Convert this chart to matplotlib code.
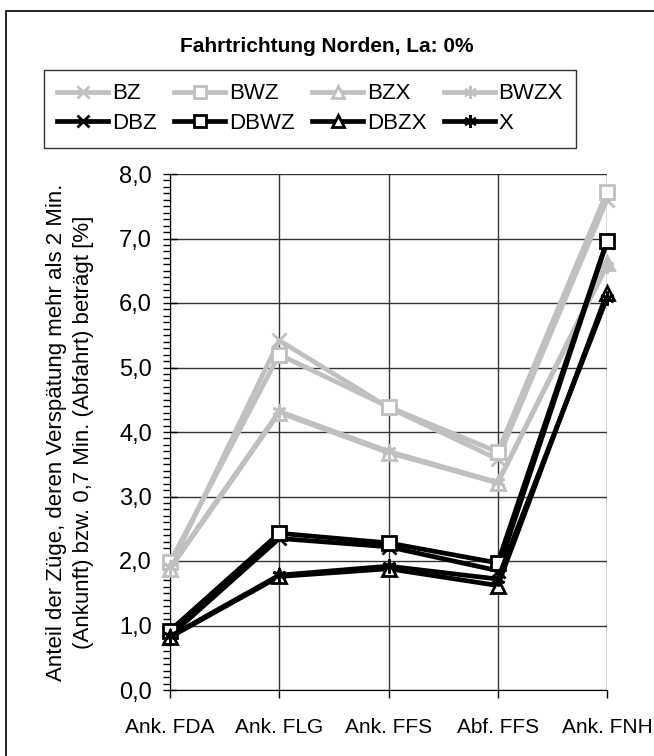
from __future__ import annotations

import matplotlib

matplotlib.use("Agg")
import matplotlib.pyplot as plt
from matplotlib.patches import Rectangle

CATEGORIES = ["Ank. FDA", "Ank. FLG", "Ank. FFS", "Abf. FFS", "Ank. FNH"]

BZ = [1.90, 5.42, 4.38, 3.58, 7.60]
BWZ = [1.98, 5.20, 4.39, 3.69, 7.72]
BZX = [1.88, 4.30, 3.68, 3.21, 6.62]
BWZX = [1.90, 4.32, 3.70, 3.22, 6.58]
DBZ = [0.84, 2.35, 2.22, 1.85, 6.95]
DBWZ = [0.92, 2.43, 2.28, 1.97, 6.96]
DBZX = [0.82, 1.76, 1.88, 1.62, 6.15]
X = [0.83, 1.78, 1.92, 1.72, 6.08]

GREY = "#c0c0c0"
STAR = (6, 2, 0)
SERIES = [
    ("BZ", BZ, GREY, "x"),
    ("BWZ", BWZ, GREY, "s"),
    ("BZX", BZX, GREY, "^"),
    ("BWZX", BWZX, GREY, STAR),
    ("DBZ", DBZ, "black", "x"),
    ("DBWZ", DBWZ, "black", "s"),
    ("DBZX", DBZX, "black", "^"),
    ("X", X, "black", STAR),
]

plt.rcParams["font.family"] = ["Liberation Sans", "DejaVu Sans"]
plt.rcParams["font.size"] = 14

W, H = 654, 756
fig = plt.figure(figsize=(W / 100, H / 100), dpi=100)
ax = fig.add_axes([170 / W, 1 - 690 / H, 437 / W, 516 / H])

xs = list(range(len(CATEGORIES)))
handles = []
for name, vals, col, mk in SERIES:
    filled = mk in ("x", STAR)
    (ln,) = ax.plot(xs, vals, color=col, lw=3.4, marker=mk,
                    ms=9.5 if mk == "s" else 10,
                    mfc=col if filled else "white", mec=col, mew=2,
                    label=name, clip_on=False, zorder=3)
    handles.append(ln)

ax.set_xlim(0, 4)
ax.set_ylim(0, 8)
ax.set_xticks(xs)
ax.set_xticklabels(CATEGORIES, fontsize=15)
ax.set_yticks(range(0, 9))
ax.set_yticklabels([f"{v},0" for v in range(0, 9)], fontsize=17)
ax.set_yticks([i / 10 for i in range(81)], minor=True)
ax.tick_params(axis="y", which="major", direction="inout", length=10, width=1, pad=8)
ax.tick_params(axis="y", which="minor", direction="out", length=5, width=1)
ax.tick_params(axis="x", which="major", direction="out", length=6, width=1, pad=14)
ax.grid(True, which="major", color="#333333", lw=1)
for side in ("top", "right"):
    ax.spines[side].set_visible(False)
ax.set_ylabel("Anteil der Züge, deren Verspätung mehr als 2 Min.\n"
              "(Ankunft) bzw. 0,7 Min. (Abfahrt) beträgt [%]",
              fontsize=16, labelpad=18, linespacing=1.4)

fig.text(327 / W, 1 - 46 / H, "Fahrtrichtung Norden, La: 0%",
         ha="center", va="center", fontsize=15, fontweight="bold")

# legend filled row by row, like the original
order = [0, 4, 1, 5, 2, 6, 3, 7]
leg = fig.legend([handles[i] for i in order], [SERIES[i][0] for i in order],
                 ncol=4, loc="upper left", bbox_to_anchor=(44 / W, 1 - 70 / H),
                 frameon=True, fancybox=False, edgecolor="black",
                 fontsize=16, handlelength=2.3, handletextpad=0.15,
                 columnspacing=0.8, borderpad=0.6, labelspacing=0.4,
                 markerscale=0.9, borderaxespad=0)
leg.get_frame().set_linewidth(1)

fig.patches.append(Rectangle((6 / W, -0.1), 1.0, 1 - 11 / H + 0.1,
                             transform=fig.transFigure, fill=False,
                             edgecolor="black", lw=1.2))

fig.savefig("out.png", dpi=100)
